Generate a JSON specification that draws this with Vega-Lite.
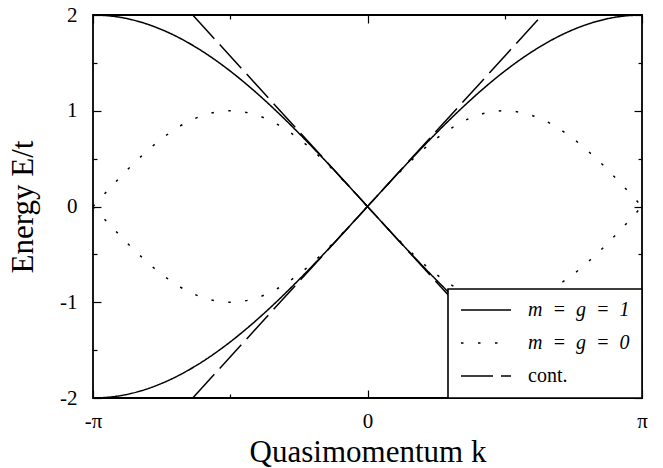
{
  "$schema": "https://vega.github.io/schema/vega-lite/v6.json",
  "width": 549,
  "height": 383,
  "autosize": "none",
  "padding": {"left": 93, "top": 15, "right": 21, "bottom": 70},
  "data": {"values": [
    {"k": -3.1416, "E": -2, "s": "m\u2002=\u2002g\u2002=\u20021", "b": "s1"},
    {"k": -2.8798, "E": -1.9829, "s": "m\u2002=\u2002g\u2002=\u20021", "b": "s1"},
    {"k": -2.618, "E": -1.9319, "s": "m\u2002=\u2002g\u2002=\u20021", "b": "s1"},
    {"k": -2.3562, "E": -1.8478, "s": "m\u2002=\u2002g\u2002=\u20021", "b": "s1"},
    {"k": -2.0944, "E": -1.7321, "s": "m\u2002=\u2002g\u2002=\u20021", "b": "s1"},
    {"k": -1.8326, "E": -1.5867, "s": "m\u2002=\u2002g\u2002=\u20021", "b": "s1"},
    {"k": -1.5708, "E": -1.4142, "s": "m\u2002=\u2002g\u2002=\u20021", "b": "s1"},
    {"k": -1.309, "E": -1.2175, "s": "m\u2002=\u2002g\u2002=\u20021", "b": "s1"},
    {"k": -1.0472, "E": -1, "s": "m\u2002=\u2002g\u2002=\u20021", "b": "s1"},
    {"k": -0.7854, "E": -0.7654, "s": "m\u2002=\u2002g\u2002=\u20021", "b": "s1"},
    {"k": -0.5236, "E": -0.5176, "s": "m\u2002=\u2002g\u2002=\u20021", "b": "s1"},
    {"k": -0.2618, "E": -0.2611, "s": "m\u2002=\u2002g\u2002=\u20021", "b": "s1"},
    {"k": 0, "E": 0, "s": "m\u2002=\u2002g\u2002=\u20021", "b": "s1"},
    {"k": 0.2618, "E": 0.2611, "s": "m\u2002=\u2002g\u2002=\u20021", "b": "s1"},
    {"k": 0.5236, "E": 0.5176, "s": "m\u2002=\u2002g\u2002=\u20021", "b": "s1"},
    {"k": 0.7854, "E": 0.7654, "s": "m\u2002=\u2002g\u2002=\u20021", "b": "s1"},
    {"k": 1.0472, "E": 1, "s": "m\u2002=\u2002g\u2002=\u20021", "b": "s1"},
    {"k": 1.309, "E": 1.2175, "s": "m\u2002=\u2002g\u2002=\u20021", "b": "s1"},
    {"k": 1.5708, "E": 1.4142, "s": "m\u2002=\u2002g\u2002=\u20021", "b": "s1"},
    {"k": 1.8326, "E": 1.5867, "s": "m\u2002=\u2002g\u2002=\u20021", "b": "s1"},
    {"k": 2.0944, "E": 1.7321, "s": "m\u2002=\u2002g\u2002=\u20021", "b": "s1"},
    {"k": 2.3562, "E": 1.8478, "s": "m\u2002=\u2002g\u2002=\u20021", "b": "s1"},
    {"k": 2.618, "E": 1.9319, "s": "m\u2002=\u2002g\u2002=\u20021", "b": "s1"},
    {"k": 2.8798, "E": 1.9829, "s": "m\u2002=\u2002g\u2002=\u20021", "b": "s1"},
    {"k": 3.1416, "E": 2, "s": "m\u2002=\u2002g\u2002=\u20021", "b": "s1"},

    {"k": -3.1416, "E": 2, "s": "m\u2002=\u2002g\u2002=\u20021", "b": "s2"},
    {"k": -2.8798, "E": 1.9829, "s": "m\u2002=\u2002g\u2002=\u20021", "b": "s2"},
    {"k": -2.618, "E": 1.9319, "s": "m\u2002=\u2002g\u2002=\u20021", "b": "s2"},
    {"k": -2.3562, "E": 1.8478, "s": "m\u2002=\u2002g\u2002=\u20021", "b": "s2"},
    {"k": -2.0944, "E": 1.7321, "s": "m\u2002=\u2002g\u2002=\u20021", "b": "s2"},
    {"k": -1.8326, "E": 1.5867, "s": "m\u2002=\u2002g\u2002=\u20021", "b": "s2"},
    {"k": -1.5708, "E": 1.4142, "s": "m\u2002=\u2002g\u2002=\u20021", "b": "s2"},
    {"k": -1.309, "E": 1.2175, "s": "m\u2002=\u2002g\u2002=\u20021", "b": "s2"},
    {"k": -1.0472, "E": 1, "s": "m\u2002=\u2002g\u2002=\u20021", "b": "s2"},
    {"k": -0.7854, "E": 0.7654, "s": "m\u2002=\u2002g\u2002=\u20021", "b": "s2"},
    {"k": -0.5236, "E": 0.5176, "s": "m\u2002=\u2002g\u2002=\u20021", "b": "s2"},
    {"k": -0.2618, "E": 0.2611, "s": "m\u2002=\u2002g\u2002=\u20021", "b": "s2"},
    {"k": 0, "E": 0, "s": "m\u2002=\u2002g\u2002=\u20021", "b": "s2"},
    {"k": 0.2618, "E": -0.2611, "s": "m\u2002=\u2002g\u2002=\u20021", "b": "s2"},
    {"k": 0.5236, "E": -0.5176, "s": "m\u2002=\u2002g\u2002=\u20021", "b": "s2"},
    {"k": 0.7854, "E": -0.7654, "s": "m\u2002=\u2002g\u2002=\u20021", "b": "s2"},
    {"k": 1.0472, "E": -1, "s": "m\u2002=\u2002g\u2002=\u20021", "b": "s2"},
    {"k": 1.309, "E": -1.2175, "s": "m\u2002=\u2002g\u2002=\u20021", "b": "s2"},
    {"k": 1.5708, "E": -1.4142, "s": "m\u2002=\u2002g\u2002=\u20021", "b": "s2"},
    {"k": 1.8326, "E": -1.5867, "s": "m\u2002=\u2002g\u2002=\u20021", "b": "s2"},
    {"k": 2.0944, "E": -1.7321, "s": "m\u2002=\u2002g\u2002=\u20021", "b": "s2"},
    {"k": 2.3562, "E": -1.8478, "s": "m\u2002=\u2002g\u2002=\u20021", "b": "s2"},
    {"k": 2.618, "E": -1.9319, "s": "m\u2002=\u2002g\u2002=\u20021", "b": "s2"},
    {"k": 2.8798, "E": -1.9829, "s": "m\u2002=\u2002g\u2002=\u20021", "b": "s2"},
    {"k": 3.1416, "E": -2, "s": "m\u2002=\u2002g\u2002=\u20021", "b": "s2"},

    {"k": -3.1416, "E": 0, "s": "m\u2002=\u2002g\u2002=\u20020", "b": "d1"},
    {"k": -2.8798, "E": -0.2588, "s": "m\u2002=\u2002g\u2002=\u20020", "b": "d1"},
    {"k": -2.618, "E": -0.5, "s": "m\u2002=\u2002g\u2002=\u20020", "b": "d1"},
    {"k": -2.3562, "E": -0.7071, "s": "m\u2002=\u2002g\u2002=\u20020", "b": "d1"},
    {"k": -2.0944, "E": -0.866, "s": "m\u2002=\u2002g\u2002=\u20020", "b": "d1"},
    {"k": -1.8326, "E": -0.9659, "s": "m\u2002=\u2002g\u2002=\u20020", "b": "d1"},
    {"k": -1.5708, "E": -1, "s": "m\u2002=\u2002g\u2002=\u20020", "b": "d1"},
    {"k": -1.309, "E": -0.9659, "s": "m\u2002=\u2002g\u2002=\u20020", "b": "d1"},
    {"k": -1.0472, "E": -0.866, "s": "m\u2002=\u2002g\u2002=\u20020", "b": "d1"},
    {"k": -0.7854, "E": -0.7071, "s": "m\u2002=\u2002g\u2002=\u20020", "b": "d1"},
    {"k": -0.5236, "E": -0.5, "s": "m\u2002=\u2002g\u2002=\u20020", "b": "d1"},
    {"k": -0.2618, "E": -0.2588, "s": "m\u2002=\u2002g\u2002=\u20020", "b": "d1"},
    {"k": 0, "E": 0, "s": "m\u2002=\u2002g\u2002=\u20020", "b": "d1"},
    {"k": 0.2618, "E": 0.2588, "s": "m\u2002=\u2002g\u2002=\u20020", "b": "d1"},
    {"k": 0.5236, "E": 0.5, "s": "m\u2002=\u2002g\u2002=\u20020", "b": "d1"},
    {"k": 0.7854, "E": 0.7071, "s": "m\u2002=\u2002g\u2002=\u20020", "b": "d1"},
    {"k": 1.0472, "E": 0.866, "s": "m\u2002=\u2002g\u2002=\u20020", "b": "d1"},
    {"k": 1.309, "E": 0.9659, "s": "m\u2002=\u2002g\u2002=\u20020", "b": "d1"},
    {"k": 1.5708, "E": 1, "s": "m\u2002=\u2002g\u2002=\u20020", "b": "d1"},
    {"k": 1.8326, "E": 0.9659, "s": "m\u2002=\u2002g\u2002=\u20020", "b": "d1"},
    {"k": 2.0944, "E": 0.866, "s": "m\u2002=\u2002g\u2002=\u20020", "b": "d1"},
    {"k": 2.3562, "E": 0.7071, "s": "m\u2002=\u2002g\u2002=\u20020", "b": "d1"},
    {"k": 2.618, "E": 0.5, "s": "m\u2002=\u2002g\u2002=\u20020", "b": "d1"},
    {"k": 2.8798, "E": 0.2588, "s": "m\u2002=\u2002g\u2002=\u20020", "b": "d1"},
    {"k": 3.1416, "E": 0, "s": "m\u2002=\u2002g\u2002=\u20020", "b": "d1"},

    {"k": -3.1416, "E": 0, "s": "m\u2002=\u2002g\u2002=\u20020", "b": "d2"},
    {"k": -2.8798, "E": 0.2588, "s": "m\u2002=\u2002g\u2002=\u20020", "b": "d2"},
    {"k": -2.618, "E": 0.5, "s": "m\u2002=\u2002g\u2002=\u20020", "b": "d2"},
    {"k": -2.3562, "E": 0.7071, "s": "m\u2002=\u2002g\u2002=\u20020", "b": "d2"},
    {"k": -2.0944, "E": 0.866, "s": "m\u2002=\u2002g\u2002=\u20020", "b": "d2"},
    {"k": -1.8326, "E": 0.9659, "s": "m\u2002=\u2002g\u2002=\u20020", "b": "d2"},
    {"k": -1.5708, "E": 1, "s": "m\u2002=\u2002g\u2002=\u20020", "b": "d2"},
    {"k": -1.309, "E": 0.9659, "s": "m\u2002=\u2002g\u2002=\u20020", "b": "d2"},
    {"k": -1.0472, "E": 0.866, "s": "m\u2002=\u2002g\u2002=\u20020", "b": "d2"},
    {"k": -0.7854, "E": 0.7071, "s": "m\u2002=\u2002g\u2002=\u20020", "b": "d2"},
    {"k": -0.5236, "E": 0.5, "s": "m\u2002=\u2002g\u2002=\u20020", "b": "d2"},
    {"k": -0.2618, "E": 0.2588, "s": "m\u2002=\u2002g\u2002=\u20020", "b": "d2"},
    {"k": 0, "E": 0, "s": "m\u2002=\u2002g\u2002=\u20020", "b": "d2"},
    {"k": 0.2618, "E": -0.2588, "s": "m\u2002=\u2002g\u2002=\u20020", "b": "d2"},
    {"k": 0.5236, "E": -0.5, "s": "m\u2002=\u2002g\u2002=\u20020", "b": "d2"},
    {"k": 0.7854, "E": -0.7071, "s": "m\u2002=\u2002g\u2002=\u20020", "b": "d2"},
    {"k": 1.0472, "E": -0.866, "s": "m\u2002=\u2002g\u2002=\u20020", "b": "d2"},
    {"k": 1.309, "E": -0.9659, "s": "m\u2002=\u2002g\u2002=\u20020", "b": "d2"},
    {"k": 1.5708, "E": -1, "s": "m\u2002=\u2002g\u2002=\u20020", "b": "d2"},
    {"k": 1.8326, "E": -0.9659, "s": "m\u2002=\u2002g\u2002=\u20020", "b": "d2"},
    {"k": 2.0944, "E": -0.866, "s": "m\u2002=\u2002g\u2002=\u20020", "b": "d2"},
    {"k": 2.3562, "E": -0.7071, "s": "m\u2002=\u2002g\u2002=\u20020", "b": "d2"},
    {"k": 2.618, "E": -0.5, "s": "m\u2002=\u2002g\u2002=\u20020", "b": "d2"},
    {"k": 2.8798, "E": -0.2588, "s": "m\u2002=\u2002g\u2002=\u20020", "b": "d2"},
    {"k": 3.1416, "E": 0, "s": "m\u2002=\u2002g\u2002=\u20020", "b": "d2"},

    {"k": -2, "E": -2, "s": "cont.", "b": "c1"},
    {"k": 2, "E": 2, "s": "cont.", "b": "c1"},
    {"k": -2, "E": 2, "s": "cont.", "b": "c2"},
    {"k": 2, "E": -2, "s": "cont.", "b": "c2"}
  ]},
  "layer": [
    {
      "mark": {"type": "line", "color": "black", "strokeWidth": 1.5, "interpolate": "monotone", "clip": true},
      "encoding": {
        "x": {
          "field": "k", "type": "quantitative",
          "scale": {"domain": [-3.14159265, 3.14159265], "nice": false, "zero": false},
          "axis": {
            "values": [-3.14159265, -1.5707963, 0, 1.5707963, 3.14159265],
            "labelExpr": "datum.value < -3 ? '-π' : (datum.value > 3 ? 'π' : (abs(datum.value) < 0.01 ? '0' : ''))",
            "tickSize": {"condition": {"test": "abs(abs(datum.value) - 1.5708) < 0.01", "value": -4}, "value": -8},
            "labelPadding": 20,
            "title": "Quasimomentum k",
            "titlePadding": 2
          }
        },
        "y": {
          "field": "E", "type": "quantitative",
          "scale": {"domain": [-2, 2], "nice": false, "zero": false},
          "axis": {
            "values": [-2, -1.5, -1, -0.5, 0, 0.5, 1, 1.5, 2],
            "labelExpr": "datum.value == round(datum.value) ? '' + datum.value : ''",
            "tickSize": {"condition": {"test": "datum.value != round(datum.value)", "value": -4}, "value": -8},
            "labelPadding": 24,
            "title": "Energy E/t",
            "titlePadding": 20
          }
        },
        "strokeDash": {
          "field": "s", "type": "nominal",
          "scale": {
            "domain": ["m\u2002=\u2002g\u2002=\u20021", "m\u2002=\u2002g\u2002=\u20020", "cont."],
            "range": [[1, 0], [2.5, 14.5], [32, 8]]
          },
          "legend": {
            "orient": "bottom-right",
            "offset": 0,
            "title": null,
            "symbolType": "stroke",
            "symbolSize": 2500,
            "symbolStrokeWidth": 1.5,
            "symbolStrokeColor": "black",
            "labelFont": "Liberation Serif, Times New Roman, serif",
            "labelFontSize": 20,
            "labelColor": "black",
            "labelOffset": 16,
            "padding": 12,
            "rowPadding": 13,
            "clipHeight": 18,
            "strokeColor": "black",
            "fillColor": "white",
            "encode": {
              "labels": {"update": {"fontStyle": {"signal": "indexof(datum.label, '=') >= 0 ? 'italic' : 'normal'"}}},
              "legend": {"update": {"strokeWidth": {"value": 1.6}}}
            }
          }
        },
        "detail": {"field": "b", "type": "nominal"}
      }
    },
    {
      "mark": {"type": "line", "opacity": 0},
      "encoding": {
        "x": {
          "field": "k", "type": "quantitative",
          "axis": {
            "orient": "top",
            "values": [-3.14159265, -1.5707963, 0, 1.5707963, 3.14159265],
            "labels": false,
            "title": null,
            "tickSize": {"condition": {"test": "abs(abs(datum.value) - 1.5708) < 0.01", "value": -4}, "value": -8}
          }
        },
        "y": {
          "field": "E", "type": "quantitative",
          "axis": {
            "orient": "right",
            "values": [-2, -1.5, -1, -0.5, 0, 0.5, 1, 1.5, 2],
            "labels": false,
            "title": null,
            "tickSize": {"condition": {"test": "datum.value != round(datum.value)", "value": -4}, "value": -8}
          }
        },
        "detail": {"field": "b", "type": "nominal"}
      }
    }
  ],
  "resolve": {"axis": {"x": "independent", "y": "independent"}},
  "config": {
    "view": {"stroke": "black", "strokeWidth": 1.8},
    "axis": {
      "domain": false,
      "grid": false,
      "tickColor": "black",
      "tickWidth": 1.2,
      "labelFont": "Liberation Serif, Times New Roman, serif",
      "labelFontSize": 21,
      "labelColor": "black",
      "titleFont": "Liberation Serif, Times New Roman, serif",
      "titleFontSize": 31,
      "titleFontWeight": "normal",
      "titleColor": "black",
      "labelFlush": false,
      "labelOverlap": false
    }
  }
}
